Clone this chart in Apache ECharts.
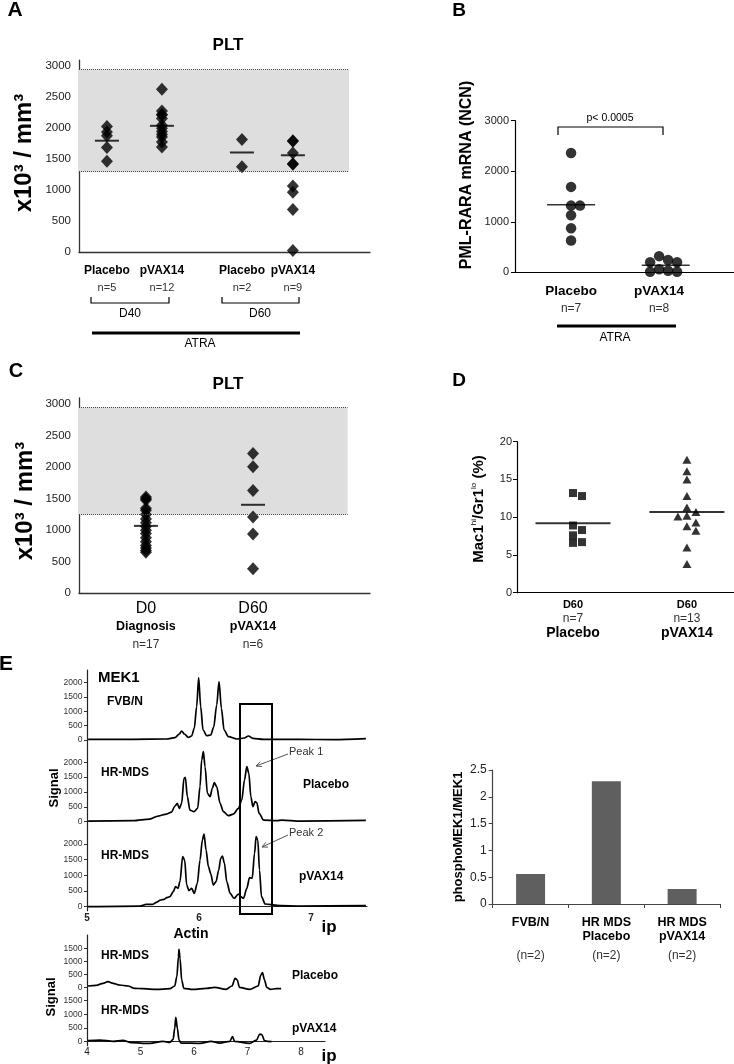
<!DOCTYPE html>
<html>
<head>
<meta charset="utf-8">
<title>PLT / PML-RARA / Mac1 / MEK1</title>
<script src="https://cdn.jsdelivr.net/npm/echarts@6.0.0/dist/echarts.min.js"></script>
<style>
    html, body { margin: 0; padding: 0; background: #fff; }
    #main { width: 734px; height: 1064px; }
</style>
</head>
<body>
<div id="main"></div>
<script>
    // ---- A : PLT at D40 / D60 under ATRA
    const pltGroupsA = ['Placebo', 'pVAX14', 'Placebo', 'pVAX14'];
    const pltNA = ['n=5', 'n=12', 'n=2', 'n=9'];
    const pltA = [
        [2030, 1940, 1880, 1690, 1470],
        [2630, 2280, 2220, 2220, 2160, 2050, 2000, 1950, 1900, 1860, 1780, 1700],
        [1820, 1380],
        [1800, 1790, 1600, 1430, 1420, 1070, 970, 690, 30]
    ];
    const pltLineA = [1800, 2040, 1610, 1565];
    const normalA = [1300, 2950];

    // ---- B : PML-RARA mRNA
    const pmlGroups = ['Placebo', 'pVAX14'];
    const pmlN = ['n=7', 'n=8'];
    const pml = [
        [2360, 1690, 1320, 1320, 1130, 870, 630],
        [320, 245, 200, 200, 60, 30, 10, 10]
    ];
    const pmlMean = [1335, 140];

    // ---- C : PLT at diagnosis / D60
    const pltTimeC = ['D0', 'D60'];
    const pltGroupsC = ['Diagnosis', 'pVAX14'];
    const pltNC = ['n=17', 'n=6'];
    const pltC = [
        [1530, 1500, 1480, 1350, 1320, 1250, 1180, 1120, 1060, 1000, 950, 880, 820, 760, 720, 680, 650],
        [2220, 2010, 1630, 1210, 940, 390]
    ];
    const pltLineC = [1070, 1405];
    const normalC = [1250, 2950];

    // ---- D : Mac1hi/Gr1lo
    const macGroups = ['Placebo', 'pVAX14'];
    const macN = ['n=7', 'n=13'];
    const mac = [
        [13.2, 12.8, 8.9, 8.3, 7.6, 6.7, 6.6],
        [17.6, 16.1, 15.0, 12.8, 11.3, 10.7, 10.2, 10.1, 9.3, 8.8, 8.2, 6.0, 3.8]
    ];
    const macMean = [9.2, 10.7];

    // ---- E : MEK1 traces [ip, signal]
    const mekFvb = [[5.01, 23], [5.41, 23], [5.71, 35], [5.785, 81], [5.824, 209], [5.845, 314], [5.869, 209],
        [5.904, 93], [5.934, 140], [5.958, 407], [5.979, 1163], [5.997, 2174], [6.015, 1163], [6.036, 349],
        [6.069, 151], [6.104, 174], [6.131, 442], [6.158, 1221], [6.179, 2035], [6.2, 1105], [6.224, 349],
        [6.263, 116], [6.337, 35], [6.403, 70], [6.442, 140], [6.481, 58], [6.576, 23], [6.9, 23], [7.2, 12], [7.49, 46]];
    const mekPlacebo = [[5.01, 22], [5.41, 34], [5.56, 90], [5.636, 191], [5.71, 258], [5.755, 326], [5.785, 528],
        [5.806, 618], [5.824, 449], [5.845, 618], [5.866, 1461], [5.878, 1494], [5.896, 843], [5.919, 393],
        [5.955, 337], [5.988, 449], [6.009, 1180], [6.024, 2079], [6.039, 2360], [6.054, 1854], [6.075, 955],
        [6.099, 843], [6.119, 1124], [6.137, 1315], [6.158, 1180], [6.188, 618], [6.218, 337], [6.263, 202],
        [6.307, 258], [6.352, 449], [6.382, 730], [6.406, 1404], [6.427, 1854], [6.445, 1629], [6.463, 843],
        [6.481, 506], [6.501, 674], [6.516, 640], [6.537, 281], [6.576, 56], [6.696, 34], [6.74, 56], [6.904, 22], [7.49, 45]];
    const mekPvax = [[5.01, 0], [5.47, 21], [5.53, 74], [5.585, 74], [5.62, 138], [5.657, 213], [5.69, 234],
        [5.71, 287], [5.74, 319], [5.77, 479], [5.791, 638], [5.812, 585], [5.83, 798], [5.854, 1596], [5.872, 1489],
        [5.89, 691], [5.91, 511], [5.934, 585], [5.958, 426], [5.985, 745], [6.009, 1489], [6.03, 2128], [6.045, 2319],
        [6.063, 1809], [6.084, 1277], [6.104, 1064], [6.128, 691], [6.152, 798], [6.176, 1170], [6.194, 1543],
        [6.209, 1617], [6.227, 1383], [6.248, 798], [6.278, 426], [6.313, 266], [6.352, 404], [6.373, 319],
        [6.397, 266], [6.427, 585], [6.451, 926], [6.475, 904], [6.496, 1702], [6.51, 2234], [6.525, 2128],
        [6.54, 1170], [6.558, 319], [6.591, 85], [6.725, 32], [6.904, 21], [7.49, 32]];

    // Actin traces [ip, signal]
    const actinPlacebo = [[4.02, 64], [4.17, 89], [4.3, 165], [4.39, 229], [4.49, 165], [4.61, 102], [4.77, 64],
        [4.89, -25], [5.05, -38], [5.3, -64], [5.55, -38], [5.64, 64], [5.68, 419], [5.71, 1182], [5.72, 1461],
        [5.74, 1118], [5.77, 292], [5.81, -25], [5.98, -64], [6.23, -25], [6.39, 13], [6.6, -64], [6.71, 64],
        [6.77, 356], [6.81, 292], [6.85, 13], [7.04, -64], [7.2, 64], [7.25, 483], [7.28, 572], [7.32, 292],
        [7.36, 13], [7.43, -64], [7.54, -38], [7.63, -38]];
    const actinPvax = [[4.02, 37], [4.24, 61], [4.49, 12], [4.67, 49], [4.83, -37], [5.17, -61], [5.42, 12],
        [5.55, -24], [5.61, 85], [5.64, 488], [5.66, 890], [5.69, 488], [5.72, 61], [5.76, -49], [6.11, -61],
        [6.32, 12], [6.48, -49], [6.67, 12], [6.72, 183], [6.76, 12], [7.04, -61], [7.17, 61], [7.23, 280],
        [7.27, 256], [7.32, 37], [7.38, 12], [7.45, 0]];

    // ---- E right : phosphoMEK1/MEK1
    const barCats = ['FVB/N', 'HR MDS Placebo', 'HR MDS pVAX14'];
    const barLines = [['FVB/N', ' '], ['HR MDS', 'Placebo'], ['HR MDS', 'pVAX14']];
    const barN = ['(n=2)', '(n=2)', '(n=2)'];
    const barVals = [0.56, 2.29, 0.28];

    const FONT = '"Liberation Sans", Arial, Helvetica, sans-serif';
    const chart = echarts.init(document.getElementById('main'));

    // simple beeswarm: slot 0, +1, -1, +2 ... for values that would overlap
    function swarm(vals, pxPerUnit, gap) {
        const placed = [];
        return vals.map(v => {
            const y = v * pxPerUnit;
            for (let k = 0; ; k++) {
                const s = k % 2 ? (k + 1) / 2 : -k / 2;
                if (!placed.some(p => p.s === s && Math.abs(p.y - y) < gap)) {
                    placed.push({ s, y });
                    return s;
                }
            }
        });
    }
    const idx = (arr, v) => arr.findIndex(a => Math.abs(a - v) < 1e-6);
    const plain = v => String(v);

    // x positions (axis 0..10) of the groups in each panel
    const posA = [0.96, 2.85, 5.6, 7.35];
    const posB = [2.56, 6.58];
    const posC = [2.3, 5.98];
    const posD = [2.58, 7.83];

    const dotsA = pltA.flatMap((g, i) => g.map(v => [posA[i], v]));
    const dotsB = pml.flatMap((g, i) => {
        const s = swarm(g, 151.6 / 3000, 8);
        return g.map((v, j) => [posB[i] + s[j] * 0.41, v]);
    });
    const dotsC = pltC.flatMap((g, i) => g.map(v => [posC[i], v]));
    const swD = mac.map(g => swarm(g, 151 / 20, 7));
    const dotsD0 = mac[0].map((v, j) => [posD[0] + swD[0][j] * 0.415, v]);
    const dotsD1 = mac[1].map((v, j) => [posD[1] + swD[1][j] * 0.415, v]);

    const axisCol = '#333';
    const noSplit = { show: false };

    function band(range, right) {
        return {
            markArea: {
                silent: true,
                itemStyle: { color: '#dedede' },
                data: [[{ coord: [0, range[0]] }, { coord: [right, range[1]] }]]
            },
            markLine: {
                silent: true, symbol: ['none', 'none'], label: { show: false },
                lineStyle: { type: 'dotted', color: '#444', width: 1 },
                data: range.map(r => [{ coord: [0, r] }, { coord: [right, r] }])
            }
        };
    }

    function plainY(grid, min, max, interval, opts) {
        return Object.assign({
            gridIndex: grid, type: 'value', min, max, interval,
            axisLine: { show: true, lineStyle: { color: axisCol, width: 1.3 } },
            axisTick: { show: false }, splitLine: noSplit,
            axisLabel: { fontSize: 11.5, color: '#222', margin: 8, formatter: v => (v % interval ? '' : String(v)) }
        }, opts || {});
    }

    function traceY(grid, min, max, marks) {
        return {
            gridIndex: grid, type: 'value', min, max,
            axisLine: { show: true, lineStyle: { color: '#222', width: 1.2 } },
            axisTick: { show: true, customValues: marks, length: 3, lineStyle: { color: '#333' } },
            axisLabel: { customValues: marks, fontSize: 8.5, color: '#333', margin: 4.5, formatter: plain },
            splitLine: noSplit
        };
    }

    function hiddenX(grid, min, max) {
        return { gridIndex: grid, type: 'value', min, max, show: false, splitLine: noSplit };
    }

    const line = (x, y, data) => ({
        type: 'line', xAxisIndex: x, yAxisIndex: y, data, showSymbol: false, symbol: 'none',
        smooth: 0.3, smoothMonotone: 'x', lineStyle: { color: '#000', width: 1.7 }
    });

    const txt = (x, y, text, size, bold, extra) => ({
        type: 'text', x, y, silent: true,
        style: Object.assign({
            text, fontSize: size, fontWeight: bold ? 'bold' : 'normal', fontFamily: FONT,
            fill: '#000', align: 'center', verticalAlign: 'middle'
        }, extra || {})
    });
    const vtxt = (x, y, text, size, extra) => Object.assign(txt(x, y, text, size, true, extra), { rotation: Math.PI / 2 });
    const pline = (points, width, color) => ({
        type: 'polyline', silent: true, shape: { points },
        style: { stroke: color || '#000', lineWidth: width || 1, fill: 'none' }
    });
    function arrow(x1, y1, x2, y2) {
        const a = Math.atan2(y2 - y1, x2 - x1), L = 6, w = 0.45;
        return [
            pline([[x1, y1], [x2, y2]], 1, '#555'),
            pline([[x2 - L * Math.cos(a - w), y2 - L * Math.sin(a - w)], [x2, y2],
                [x2 - L * Math.cos(a + w), y2 - L * Math.sin(a + w)]], 1, '#555')
        ];
    }

    const option = {
        animation: false,
        backgroundColor: '#fff',
        textStyle: { fontFamily: FONT },
        grid: [
            { left: 79, top: 60.1, width: 291, height: 192.2 },        // 0 A
            { left: 515, top: 120.7, width: 219, height: 151.6 },      // 1 B
            { left: 79, top: 398, width: 291, height: 195.3 },         // 2 C
            { left: 517, top: 441.7, width: 217, height: 151 },        // 3 D
            { left: 87, top: 670, width: 280, height: 75 },            // 4 MEK1 FVB/N
            { left: 87, top: 745, width: 280, height: 82 },            // 5 MEK1 placebo
            { left: 87, top: 827, width: 280, height: 83.7 },          // 6 MEK1 pVAX14
            { left: 87, top: 935, width: 238, height: 57 },            // 7 actin placebo
            { left: 87, top: 992, width: 238, height: 53.7 },          // 8 actin pVAX14
            { left: 492.7, top: 770, width: 227.3, height: 134 }       // 9 bars
        ],
        xAxis: [
            {
                gridIndex: 0, type: 'value', min: 0, max: 10, splitLine: noSplit,
                axisLine: { show: true, lineStyle: { color: axisCol, width: 1.3 } }, axisTick: { show: false },
                axisLabel: {
                    customValues: posA, margin: 10,
                    formatter: v => { const i = idx(posA, v); return `{b|${pltGroupsA[i]}}\n{n|${pltNA[i]}}`; },
                    rich: { b: { fontWeight: 'bold', fontSize: 12, lineHeight: 17, color: '#000' },
                            n: { fontSize: 11, lineHeight: 17, color: '#333' } }
                }
            },
            {
                gridIndex: 1, type: 'value', min: 0, max: 10, splitLine: noSplit,
                axisLine: { show: true, lineStyle: { color: '#000', width: 1.2 } }, axisTick: { show: false },
                axisLabel: {
                    customValues: posB, margin: 10,
                    formatter: v => { const i = idx(posB, v); return `{b|${pmlGroups[i]}}\n{n|${pmlN[i]}}`; },
                    rich: { b: { fontWeight: 'bold', fontSize: 13.5, lineHeight: 18, color: '#000' },
                            n: { fontSize: 12, lineHeight: 16, color: '#333' } }
                }
            },
            {
                gridIndex: 2, type: 'value', min: 0, max: 10, splitLine: noSplit,
                axisLine: { show: true, lineStyle: { color: axisCol, width: 1.3 } }, axisTick: { show: false },
                axisLabel: {
                    customValues: posC, margin: 6,
                    formatter: v => { const i = idx(posC, v); return `{d|${pltTimeC[i]}}\n{b|${pltGroupsC[i]}}\n{n|${pltNC[i]}}`; },
                    rich: { d: { fontSize: 16, lineHeight: 18, color: '#000' },
                            b: { fontWeight: 'bold', fontSize: 12.5, lineHeight: 18, color: '#000' },
                            n: { fontSize: 12, lineHeight: 19, color: '#333' } }
                }
            },
            {
                gridIndex: 3, type: 'value', min: 0, max: 10, splitLine: noSplit,
                axisLine: { show: true, lineStyle: { color: '#000', width: 1.2 } }, axisTick: { show: false },
                axisLabel: {
                    customValues: posD, margin: 6,
                    formatter: v => { const i = idx(posD, v); return `{b|D60}\n{n|${macN[i]}}\n{g|${macGroups[i]}}`; },
                    rich: { b: { fontWeight: 'bold', fontSize: 11, lineHeight: 13, color: '#000' },
                            n: { fontSize: 12, lineHeight: 13, color: '#333' },
                            g: { fontWeight: 'bold', fontSize: 14, lineHeight: 17, color: '#000' } }
                }
            },
            hiddenX(4, 5, 7.5),
            hiddenX(5, 5, 7.5),
            {
                gridIndex: 6, type: 'value', min: 5, max: 7.5, splitLine: noSplit,
                axisLine: { show: true, lineStyle: { color: '#222', width: 1.2 } }, axisTick: { show: false },
                axisLabel: { customValues: [5, 6, 7], fontSize: 10, fontWeight: 'bold', color: '#222', margin: 3, formatter: plain }
            },
            hiddenX(7, 4, 8.45),
            {
                gridIndex: 8, type: 'value', min: 4, max: 8.45, splitLine: noSplit,
                axisLine: { show: true, lineStyle: { color: '#222', width: 1.2 } }, axisTick: { show: false },
                axisLabel: { customValues: [4, 5, 6, 7, 8], fontSize: 10, color: '#222', margin: 2, formatter: plain }
            },
            {
                gridIndex: 9, type: 'category', data: barCats,
                axisLine: { show: true, lineStyle: { color: '#444', width: 1.2 } },
                axisTick: { show: true, length: 4, lineStyle: { color: '#444' } },
                axisLabel: {
                    margin: 12, interval: 0,
                    formatter: (v, i) => `{b|${barLines[i][0]}}\n{b|${barLines[i][1]}}\n{n|${barN[i]}}`,
                    rich: { b: { fontWeight: 'bold', fontSize: 12.5, lineHeight: 14, color: '#000' },
                            n: { fontSize: 12, lineHeight: 24, color: '#333' } }
                }
            }
        ],
        yAxis: [
            plainY(0, 0, 3100, 500),
            plainY(1, 0, 3000, 1000, {
                axisLine: { show: true, lineStyle: { color: '#000', width: 1.2 } },
                axisTick: { show: true, length: 4, lineStyle: { color: '#000' } },
                axisLabel: { fontSize: 11, color: '#222', margin: 6, formatter: plain }
            }),
            plainY(2, 0, 3100, 500),
            plainY(3, 0, 20, 5, {
                axisLine: { show: true, lineStyle: { color: '#000', width: 1.2 } },
                axisTick: { show: true, length: 4, lineStyle: { color: '#000' } },
                axisLabel: { fontSize: 11, color: '#222', margin: 5, formatter: plain }
            }),
            traceY(4, -175, 2443, [0, 500, 1000, 1500, 2000]),
            traceY(5, -178, 2582, [0, 500, 1000, 1500, 2000]),
            traceY(6, -128, 2542, [0, 500, 1000, 1500, 2000]),
            traceY(7, -164, 2006, [0, 500, 1000, 1500]),
            traceY(8, -146, 1818, [0, 500, 1000, 1500]),
            {
                gridIndex: 9, type: 'value', min: 0, max: 2.5, interval: 0.5, splitLine: noSplit,
                axisLine: { show: true, lineStyle: { color: '#444', width: 1.2 } },
                axisTick: { show: true, length: 4, lineStyle: { color: '#444' } },
                axisLabel: { fontSize: 12, color: '#222', margin: 6, formatter: plain }
            }
        ],
        series: [
            Object.assign({
                type: 'scatter', xAxisIndex: 0, yAxisIndex: 0, data: dotsA,
                symbol: 'diamond', symbolSize: [12, 13], itemStyle: { color: '#000' }
            }, band(normalA, 9.28)),
            {
                type: 'scatter', xAxisIndex: 0, yAxisIndex: 0, symbol: 'rect', symbolSize: [24, 2],
                itemStyle: { color: '#000' }, data: pltLineA.map((v, i) => [posA[i], v]), z: 3
            },
            {
                type: 'scatter', xAxisIndex: 1, yAxisIndex: 1, data: dotsB,
                symbol: 'circle', symbolSize: 10.5, itemStyle: { color: '#000' }
            },
            {
                type: 'scatter', xAxisIndex: 1, yAxisIndex: 1, symbol: 'rect', symbolSize: [48, 1.5],
                itemStyle: { color: '#000' }, data: pmlMean.map((v, i) => [posB[i] + (i ? 0.3 : 0), v]), z: 3
            },
            Object.assign({
                type: 'scatter', xAxisIndex: 2, yAxisIndex: 2, data: dotsC,
                symbol: 'diamond', symbolSize: [12, 13], itemStyle: { color: '#000' }
            }, band(normalC, 9.23)),
            {
                type: 'scatter', xAxisIndex: 2, yAxisIndex: 2, symbol: 'rect', symbolSize: [24, 2],
                itemStyle: { color: '#000' }, data: pltLineC.map((v, i) => [posC[i], v]), z: 3
            },
            {
                type: 'scatter', xAxisIndex: 3, yAxisIndex: 3, data: dotsD0,
                symbol: 'rect', symbolSize: 8, itemStyle: { color: '#000' }
            },
            {
                type: 'scatter', xAxisIndex: 3, yAxisIndex: 3, data: dotsD1,
                symbol: 'triangle', symbolSize: [9, 8], itemStyle: { color: '#000' }
            },
            {
                type: 'scatter', xAxisIndex: 3, yAxisIndex: 3, symbol: 'rect', symbolSize: [75, 2],
                itemStyle: { color: '#000' }, data: macMean.map((v, i) => [posD[i], v]), z: 3
            },
            line(4, 4, mekFvb),
            line(5, 5, mekPlacebo),
            line(6, 6, mekPvax),
            line(7, 7, actinPlacebo),
            line(8, 8, actinPvax),
            {
                type: 'bar', xAxisIndex: 9, yAxisIndex: 9, data: barVals, barWidth: 29,
                itemStyle: { color: '#5f5f5f' }
            }
        ],
        graphic: [
            // panel letters
            txt(15, 10, 'A', 21, true), txt(459, 11, 'B', 19, true), txt(16, 371, 'C', 20, true),
            txt(459, 381, 'D', 19, true), txt(6, 664, 'E', 21, true),
            // titles
            txt(228, 45, 'PLT', 17, true), txt(228, 384, 'PLT', 17, true),
            // axis names
            vtxt(24, 153, 'x10³ / mm³', 24), vtxt(25, 501, 'x10³ / mm³', 24),
            vtxt(467, 175, 'PML-RARA mRNA (NCN)', 16),
            Object.assign(txt(479, 509, '{n|Mac1}{s|hi}{n|/Gr1}{s|lo}{n| (%)}', 15, true, {
                rich: { n: { fontSize: 15, fontWeight: 'bold', lineHeight: 18, fontFamily: FONT },
                        s: { fontSize: 8, verticalAlign: 'top', fontFamily: FONT } }
            }), { rotation: Math.PI / 2 }),
            vtxt(54, 788, 'Signal', 13), vtxt(51, 997, 'Signal', 13),
            vtxt(458, 837, 'phosphoMEK1/MEK1', 13),
            // A brackets
            pline([[91, 297], [91, 303], [169, 303], [169, 297]], 1.2),
            pline([[222, 297], [222, 303], [299, 303], [299, 297]], 1.2),
            txt(130, 314, 'D40', 12), txt(260, 314, 'D60', 12),
            pline([[92, 333], [300, 333]], 3),
            txt(200, 344, 'ATRA', 12),
            // B annotations
            pline([[558, 135], [558, 127], [663, 127], [663, 135]], 1.2),
            txt(610, 118, 'p< 0.0005', 10.5),
            pline([[557, 326], [676, 326]], 3),
            txt(615, 338, 'ATRA', 12),
            // E labels
            txt(98, 678, 'MEK1', 15, true, { align: 'left' }),
            txt(107, 702, 'FVB/N', 12, true, { align: 'left' }),
            txt(101, 773, 'HR-MDS', 12, true, { align: 'left' }),
            txt(303, 785, 'Placebo', 12, true, { align: 'left' }),
            txt(101, 856, 'HR-MDS', 12, true, { align: 'left' }),
            txt(299, 877, 'pVAX14', 12, true, { align: 'left' }),
            txt(289, 752, 'Peak 1', 11, false, { align: 'left', fill: '#333' }),
            txt(289, 833, 'Peak 2', 11, false, { align: 'left', fill: '#333' }),
            ...arrow(288, 754, 256, 766),
            ...arrow(288, 835, 262, 847),
            { type: 'rect', silent: true, shape: { x: 240, y: 704, width: 32, height: 210 },
              style: { fill: 'none', stroke: '#000', lineWidth: 2 } },
            txt(329, 927, 'ip', 17, true), txt(191, 934, 'Actin', 14, true),
            txt(101, 956, 'HR-MDS', 12, true, { align: 'left' }),
            txt(292, 976, 'Placebo', 12, true, { align: 'left' }),
            txt(101, 1011, 'HR-MDS', 12, true, { align: 'left' }),
            txt(292, 1029, 'pVAX14', 12, true, { align: 'left' }),
            txt(329, 1056, 'ip', 17, true)
        ]
    };

    chart.setOption(option);
    window.addEventListener('resize', () => chart.resize());
</script>
</body>
</html>
